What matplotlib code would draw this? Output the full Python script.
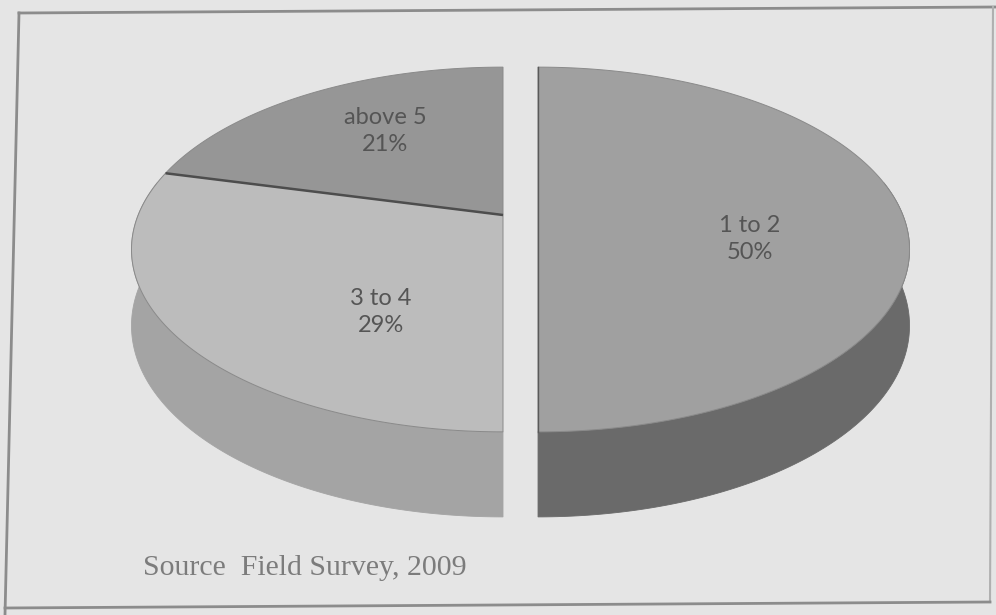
import numpy as np
import matplotlib
matplotlib.use("Agg")
import matplotlib.pyplot as plt
from matplotlib.patches import Polygon

# household size groups and their share of respondents (%)
labels = ["1 to 2", "3 to 4", "above 5"]
shares = [50, 29, 21]
explode = [0.096, 0.0, 0.0]

top_colors = ["#a0a0a0", "#bcbcbc", "#969696"]
side_colors = ["#6a6a6a", "#a4a4a4", "#808080"]
label_xy = [(750, 239), (381, 312), (385, 131)]

# 3-D pie geometry (pixel canvas, perspective view)
CX, CY = 503, 215
FX, FY = 1700, 1734
TILT = np.radians(28.2)
DIST = 4.66
DEPTH = 0.232
S, C = np.sin(TILT), np.cos(TILT)


def project(x, z, y=0.0, shift=(0.0, 0.0)):
    x, z, y = np.asarray(x, float), np.asarray(z, float), np.asarray(y, float)
    yc = y * C + z * S
    zc = -y * S + z * C + DIST
    return CX + shift[0] + FX * x / (z * C + DIST), CY + shift[1] - FY * yc / zc


def arc(a_from, a_to, y=0.0, shift=(0.0, 0.0), n=160):
    t = np.radians(np.linspace(a_from, a_to, n))
    return np.column_stack(project(np.cos(t), np.sin(t), y, shift))


fig = plt.figure(figsize=(9.96, 6.15), dpi=100)
fig.patch.set_facecolor("#e5e5e5")
ax = fig.add_axes([0, 0, 1, 1])
ax.set_xlim(0, 996)
ax.set_ylim(615, 0)
ax.axis("off")

# slices run clockwise from 12 o'clock; exploded slices slide outwards on screen
slices = []
start = 90.0
for i, share in enumerate(shares):
    sweep = 360.0 * share / sum(shares)
    a0, a1 = start, start - sweep
    mid = np.radians((a0 + a1) / 2)
    shift = (explode[i] * FX / DIST * np.cos(mid),
             -explode[i] * FY * S / DIST * np.sin(mid))
    slices.append((a0, a1, shift))
    start = a1

# outer walls between the two silhouette tangents
edge = np.degrees(np.arcsin(C / DIST))
for i, (a0, a1, shift) in enumerate(slices):
    for k in (-1, 0, 1):
        lo, hi = max(a1, -180 - edge + 360 * k), min(a0, edge + 360 * k)
        if hi <= lo:
            continue
        upper = arc(hi, lo, shift=shift)
        lower = arc(lo, hi, y=-DEPTH, shift=shift)
        ax.add_patch(Polygon(np.vstack([upper, lower]), closed=True,
                             facecolor=side_colors[i], edgecolor=side_colors[i],
                             lw=0.6, zorder=2))

# top faces
for i, (a0, a1, shift) in enumerate(slices):
    cx, cy = project(0, 0, shift=shift)
    pts = np.vstack([[cx, cy], arc(a0, a1, shift=shift)])
    ax.add_patch(Polygon(pts, closed=True, facecolor=top_colors[i],
                         edgecolor="#8a8a8a", lw=0.7, zorder=3))

# dark seam between "above 5" and "3 to 4"
a_seam = np.radians(slices[1][1])
sx, sy = project([0, np.cos(a_seam)], [0, np.sin(a_seam)])
ax.plot(sx, sy, color="#4d4d4d", lw=1.8, zorder=4, solid_capstyle="butt")

# left edge of the exploded slice
lx, ly = project([0, 0], [-1, 1], shift=slices[0][2])
ax.plot(lx, ly, color="#5a5a5a", lw=1.0, zorder=4)

for (x, y), lab, share in zip(label_xy, labels, shares):
    ax.text(x, y, f"{lab}\n{share}%", ha="center", va="center",
            fontsize=17, family="Lato", color="#555555",
            linespacing=1.4, zorder=5)

ax.text(143, 568, "Source  Field Survey, 2009", ha="left", va="center",
        fontsize=21.5, family="Liberation Serif", color="#7c7c7c", zorder=5)

# printed frame around the figure
frame = "#8c8c8c"
ax.plot([19, 996], [13, 7], color=frame, lw=2.0)
ax.plot([19, 5], [13, 615], color=frame, lw=2.0)
ax.plot([993, 990], [7, 602], color="#b0b0b0", lw=1.5)
ax.plot([5, 990], [608, 602], color=frame, lw=2.0)

fig.savefig("out.png", dpi=100, facecolor=fig.get_facecolor())
